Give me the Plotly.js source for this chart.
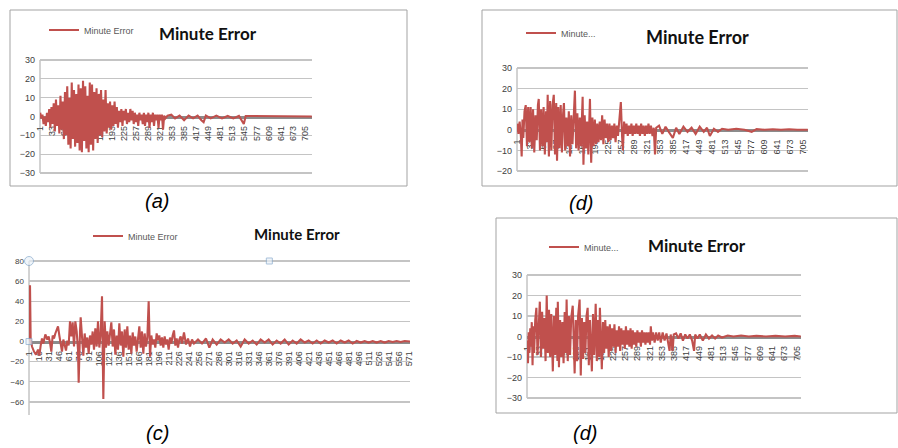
<!DOCTYPE html>
<html><head><meta charset="utf-8">
<script src="https://cdn.plot.ly/plotly-3.0.1.min.js"></script>
<style>html,body{margin:0;padding:0;background:#fff}#chart{width:898px;height:448px}</style>
</head><body><div id="chart"></div>
<script>
// ---------- DATA ----------
const seriesName = 'Minute Error';
const seriesNameShort = 'Minute...';
const chartTitle = 'Minute Error';
const panelLabels = ['(a)', '(d)', '(c)', '(d)'];

const ticksA = ['1','33','65','97','129','161','193','225','257','289','321','353','385','417','449','481','513','545','577','609','641','673','705'];
const ticksC = ['1','16','31','46','61','76','91','106','121','136','151','166','181','196','211','226','241','256','271','286','301','316','331','346','361','376','391','406','421','436','451','466','481','496','511','526','541','556','571'];

// panel (a)
const xA = [1,4,7,10,13,16,19,22,25,28,31,34,37,40,43,46,49,52,55,58,61,64,67,70,73,76,79,82,85,88,91,94,97,100,103,106,109,112,115,118,121,124,127,130,133,136,139,142,145,148,151,154,157,160,163,166,169,172,175,178,181,184,187,190,193,196,199,202,205,208,211,214,217,220,223,226,229,232,235,238,241,244,247,250,253,256,259,262,265,268,271,274,277,280,283,286,289,292,295,298,301,304,307,310,313,316,319,322,325,328,331,334,340,350,360,372,384,396,408,420,430,436,442,455,470,485,500,515,530,543,548,560,580,600,620,640,660,680,700,724];
const yA = [2,-1,1,-4,0,-5,2,-3,4,-6,5,-4,7,-8,9,-5,6,-9,11,-7,8,-12,13,-10,16,-15,10,-17,18,-12,14,-16,12,-14,17,-18,15,-19,19,-13,16,-17,11,-19,18,-15,17,-18,13,-12,15,-14,12,-10,14,-11,9,-8,14,-9,7,-6,8,-7,6,-5,8,-4,5,-6,3,-3,4,-5,3,-2,4,-4,2,-3,4,-2,3,-4,2,-3,1,-5,2,-2,1,-4,2,-5,1,-3,2,-6,1,-3,2,-5,1,-2,1,-6,1,-2,1,-7,0.5,-1,0.5,1,-1,0.5,-2,0.5,-1,0.5,-2,-3,0.5,-1,0.5,-1,0.3,-1,0.3,-4,0.3,0.3,0,0.3,0,0.3,0,0.3,0,0];

// panel (d) top
const xD1 = [1,4,7,10,12,14,16,19,22,25,28,31,34,37,40,43,46,49,52,54,57,60,63,66,69,72,74,76,79,82,85,88,91,94,97,99,102,105,108,111,114,116,119,122,125,128,131,134,137,140,143,146,149,152,155,158,160,162,164,167,170,173,176,178,180,183,186,189,192,195,198,201,204,207,210,213,216,219,222,225,228,231,234,237,240,243,246,249,252,256,259,261,264,267,270,273,276,279,282,285,288,291,294,297,300,303,306,309,312,315,318,321,324,327,330,334,337,340,343,350,358,366,374,384,392,400,410,420,430,440,450,460,468,475,485,495,505,520,540,560,578,590,610,630,650,670,690,716];
const yD1 = [3,-2,4,-3,-13,5,-4,9,12,-8,11,-6,11,-9,10,-11,7,-5,12,15,-10,10,-8,11,-12,9,-6,17,-13,14,-10,12,17,-12,13,-15,11,-9,12,-11,8,13,-10,6,-8,9,-13,7,-7,5,19,-9,8,-10,6,-8,5,16,-17,7,-9,4,-12,5,15,-16,6,-8,5,-7,3,-6,4,-5,7,-7,5,-4,3,-6,3,-5,2,-4,3,-6,2,-3,3,13.5,-3,-10,4,-2,3,-3,2,-2,3,-3,2,-2,3,-2,2,-3,3,-2,2,-3,2,-2,3,-2,2,-3,1,-12,1,2,-2,1.5,-1,-4,1,-2,1.5,-1,1,-2,1.5,-1,1,-3,0.5,-1,0.5,0,0.5,0,-1,0.3,0,0.3,0,0.3,0,0];

// panel (c)
const xC = [1,2,3,5,8,11,14,16,18,20,22,25,28,30,32,34,36,38,40,42,44,46,48,50,52,54,56,58,60,62,64,66,68,70,72,74,75,77,78,80,82,84,86,88,90,92,94,96,98,100,102,104,106,108,110,112,114,116,118,120,122,124,126,128,130,132,134,136,138,140,142,144,146,148,150,152,154,156,158,160,162,164,166,168,170,172,174,176,178,180,182,184,186,188,190,192,194,196,198,200,202,204,206,208,210,212,214,216,218,220,222,224,226,228,230,233,236,239,242,245,248,254,260,266,271,276,282,288,294,300,306,312,318,324,330,336,342,348,354,360,366,372,378,384,390,396,402,408,414,420,426,432,438,444,450,456,462,468,474,480,486,492,498,504,510,516,522,528,534,540,546,552,558,564,572];
const yC = [0,56,2,-5,-10,-13,-8,-14,-4,3,-2,7,2,5,-1,-10,6,3,8,12,15,6,-2,-10,2,-3,-9,1,-4,20,5,19,-5,20,10,-8,-41,10,24,5,-14,8,-6,4,-12,6,-3,10,-8,13,-5,20,-6,8,45,-57,20,-6,10,-4,8,19,-5,12,-13,6,-8,18,-4,10,-15,12,-6,15,-8,6,-12,9,-4,5,-10,7,15,-6,10,-12,8,-5,4,40,-15,6,-3,2,-6,8,1,6,-4,4,-6,5,-3,2,-8,4,-2,6,11,-4,3,-6,2,5,-2,9,-3,3,-5,2,-2,2,-2,3,-6,2,-3,2,-1,2,-2,1,-5,2,-2,1,-3,2,-1,2,-3,1,-2,2,-3,1,-2,2,-1,1,-2,1,-2,1,-1,1,-2,1,-1,1,-2,0.5,-1,0.5,-1,0.5,-1,0.5,-1,0.5,-0.5,0.5,-0.5,0.5,0];

// panel (d) bottom
const xD2 = [1,3,5,7,9,11,13,15,17,19,22,25,28,31,34,37,40,43,46,49,52,55,58,61,64,68,71,74,77,80,81,84,87,90,93,96,99,102,104,107,110,113,116,120,123,125,128,131,134,138,141,144,147,150,153,156,159,162,165,168,170,173,176,180,183,186,189,191,194,196,199,202,205,208,211,214,217,220,223,226,229,232,235,238,241,244,247,250,253,256,259,262,265,268,271,274,277,280,283,286,289,292,295,298,301,304,307,310,313,316,319,322,324,327,330,334,338,342,346,350,355,360,365,370,373,376,381,384,390,396,402,408,414,420,426,432,437,440,446,452,460,468,476,484,492,500,510,525,540,560,580,600,625,650,675,700,716];
const yD2 = [-2,-13,2,-8,4,-5,7,-14,5,-8,8,14,-9,6,17,-10,12,-6,9,-12,20,-8,13,-10,11,-17,10,-9,14,-12,17,-15,8,-10,7,-13,12,-8,18,-12,10,-9,9,15,-10,-18,8,-12,10,18,-19,9,-11,7,-8,10,14,-14,8,-10,-17,11,-9,16,-12,8,-10,14,-8,-16,7,-8,8,-6,5,-10,6,-7,4,-5,6,-8,3,-5,5,-7,4,-4,3,-6,5,-4,3,-5,4,-6,3,-4,2,-5,3,-3,2,-5,3,-3,2,-4,2,-3,2,-4,5,-2,2,-3,2,-2,2,-3,2,-2,1.5,-3,-7,1,-7,1,1.5,-1,1.5,-2,1,-1,1,-2,-7,1,-1,1,-2,1,-1,0.5,-1,0.5,-0.5,0.5,0,0.5,0,0.3,0,0.3,0,0.3,0];

// selection handles visible on chart (c)
const handleX = [0.5, 361, 0.5];
const handleY = [80, 80, 0];
const handleSymbol = ['circle', 'square', 'square'];

// ---------- LAYOUT HELPERS ----------
const W = 898, H = 448;
const px = v => v / W;
const py = v => 1 - v / H;

const panels = [
  {x: xA,  y: yA,  name: seriesName,      ticks: ticksA, xd: [40, 312],  yd: [60, 173],  yr: [-30, 30], xr: [0.5, 724.5], dt: 10, ytf: 9,
   title: {x: 208, y: 33, size: 17}, leg: {x: 44, y: 30}, lab: {x: 157, y: 201}},
  {x: xD1, y: yD1, name: seriesNameShort, ticks: ticksA, xd: [517, 808], yd: [68, 171],  yr: [-20, 30], xr: [0.5, 716.5], dt: 10, ytf: 9,
   title: {x: 697, y: 37, size: 18}, leg: {x: 521, y: 33}, lab: {x: 581, y: 203}},
  {x: xC,  y: yC,  name: seriesName,      ticks: ticksC, xd: [29, 410],  yd: [261, 415], yr: [-73, 80], xr: [0.5, 572], dt: 20, ytf: 8,
   title: {x: 297, y: 234, size: 15}, leg: {x: 88, y: 236}, lab: {x: 157, y: 433}},
  {x: xD2, y: yD2, name: seriesNameShort, ticks: ticksA, xd: [527, 801], yd: [275, 398], yr: [-30, 30], xr: [0.5, 716.5], dt: 10, ytf: 9,
   title: {x: 697, y: 245, size: 17}, leg: {x: 544, y: 247}, lab: {x: 585, y: 433}}
];

const red = '#C0504D';
const data = [];
const layout = {
  width: W, height: H, margin: {l: 0, r: 0, t: 0, b: 0},
  paper_bgcolor: '#ffffff', plot_bgcolor: 'rgba(0,0,0,0)',
  font: {family: 'Liberation Sans, Arial, sans-serif', color: '#404040'},
  annotations: [], shapes: []
};

const padPx = 3; // extra pixels so edge gridlines are not suppressed
panels.forEach((p, i) => {
  const n = i === 0 ? '' : String(i + 1);
  const legKey = 'legend' + n;
  data.push({
    type: 'scatter', mode: 'lines', x: p.x, y: p.y, name: p.name,
    xaxis: 'x' + n, yaxis: 'y' + n, legend: legKey, cliponaxis: true,
    line: {color: red, width: 2.1}, hoverinfo: 'skip'
  });
  const unitPerPx = (p.yr[1] - p.yr[0]) / (p.yd[1] - p.yd[0]);
  const yr = [p.yr[0] - padPx * unitPerPx, p.yr[1] + padPx * unitPerPx];
  const yd0 = py(p.yd[1] + padPx), yd1 = py(p.yd[0] - padPx);
  const zeroPos = yd0 + (0 - yr[0]) / (yr[1] - yr[0]) * (yd1 - yd0);
  layout['xaxis' + n] = {
    domain: [px(p.xd[0]), px(p.xd[1])], range: p.xr, anchor: 'free', position: zeroPos,
    tickmode: 'array', tickvals: p.ticks.map(Number), ticktext: p.ticks, tickangle: -90,
    tickfont: {size: 9, color: '#404040'}, ticks: '', ticklabelstandoff: 4,
    showgrid: false, zeroline: false, showline: true, linecolor: '#8c8c8c', linewidth: 3,
    layer: 'below traces', automargin: false, fixedrange: true
  };
  layout['yaxis' + n] = {
    domain: [yd0, yd1], range: yr, anchor: 'x' + n, dtick: p.dt, tick0: 0,
    tickfont: {size: p.ytf, color: '#404040'}, ticks: '', ticklabelstandoff: 4,
    showgrid: true, gridcolor: '#c4c4c4', gridwidth: 1.3, zeroline: false,
    showline: false, automargin: false, fixedrange: true
  };
  // vertical value-axis line (drawn from the data-range ends)
  layout.shapes.push({type: 'line', xref: 'x' + n + ' domain', yref: 'y' + n,
    x0: 0, x1: 0, y0: p.yr[0], y1: p.yr[1], line: {color: '#a6a6a6', width: 1}, layer: 'below'});
  layout[legKey] = {
    x: px(p.leg.x), y: py(p.leg.y), xanchor: 'left', yanchor: 'middle',
    bgcolor: 'rgba(0,0,0,0)', borderwidth: 0, itemwidth: 30,
    font: {size: 9, color: '#595959', family: 'Liberation Sans Narrow, Liberation Sans, Arial, sans-serif'}
  };
  layout.annotations.push({
    text: '<b>' + chartTitle + '</b>', xref: 'paper', yref: 'paper',
    x: px(p.title.x), y: py(p.title.y), xanchor: 'center', yanchor: 'middle', showarrow: false,
    font: {size: p.title.size, color: '#111111', family: 'Liberation Sans Narrow, Arial Narrow, Lato, sans-serif'}
  });
  layout.annotations.push({
    text: '<i>' + panelLabels[i] + '</i>', xref: 'paper', yref: 'paper',
    x: px(p.lab.x), y: py(p.lab.y), xanchor: 'center', yanchor: 'middle', showarrow: false,
    font: {size: 20, color: '#000000', family: 'Liberation Sans, Arial, sans-serif'}
  });
});

// chart borders
[[10, 10, 407, 186], [482, 10, 897, 186], [496, 218, 897, 413]].forEach(b => {
  layout.shapes.push({type: 'rect', xref: 'paper', yref: 'paper',
    x0: px(b[0]), x1: px(b[2]), y0: py(b[3]), y1: py(b[1]),
    line: {color: '#a3a3a3', width: 1}, fillcolor: 'rgba(0,0,0,0)', layer: 'below'});
});

data.push({
  type: 'scatter', mode: 'markers', x: handleX, y: handleY, xaxis: 'x3', yaxis: 'y3',
  showlegend: false, hoverinfo: 'skip', cliponaxis: false,
  marker: {symbol: handleSymbol, size: [9, 6, 6], color: '#eaf1f8', line: {color: '#86a9cc', width: 1}}
});

Plotly.newPlot('chart', data, layout, {displayModeBar: false, staticPlot: true});
</script></body></html>
